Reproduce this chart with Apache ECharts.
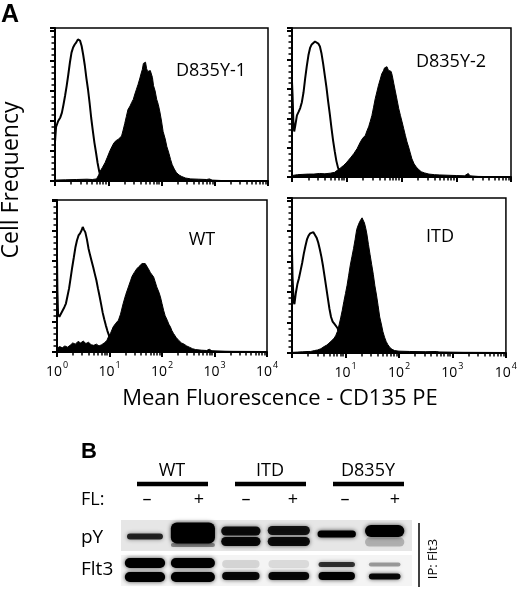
<!DOCTYPE html>
<html>
<head>
<meta charset="utf-8">
<script src="https://cdn.jsdelivr.net/npm/echarts@6/dist/echarts.min.js"></script>
<style>
html,body{margin:0;padding:0;background:#fff;}
#c{width:520px;height:589px;}
</style>
</head>
<body>
<div id="c"></div>
<script>
// ---------------- DATA ----------------
// x = log10(fluorescence), y = cell count (arbitrary units)
const panelNames = ['D835Y-1', 'D835Y-2', 'WT', 'ITD'];
const decadeExponents = [0, 1, 2, 3, 4];

const tlCtrl = [[0,130],[0.02,180],[0.06,200],[0.1,212],[0.13,228],[0.16,255],[0.19,285],[0.22,318],[0.25,355],[0.28,395],[0.31,428],[0.34,445],[0.37,455],[0.40,462],[0.43,472],[0.45,476],[0.47,468],[0.50,450],[0.53,420],[0.56,385],[0.59,342],[0.62,305],[0.65,260],[0.68,210],[0.71,168],[0.74,128],[0.77,95],[0.80,60],[0.83,32],[0.86,15],[0.89,7],[0.95,4],[1.2,3],[1.6,2],[2.2,1],[4,0]];
const tlStain = [[0,3],[0.2,4],[0.4,5],[0.6,6],[0.7,5],[0.78,7],[0.82,20],[0.85,33],[0.89,45],[0.94,61],[0.98,78],[1.03,100],[1.07,115],[1.11,128],[1.15,135],[1.19,139],[1.22,144],[1.25,150],[1.28,170],[1.31,192],[1.34,215],[1.37,238],[1.41,250],[1.44,262],[1.47,272],[1.50,290],[1.53,306],[1.56,322],[1.59,340],[1.62,360],[1.64,372],[1.66,392],[1.68,388],[1.70,396],[1.72,375],[1.74,365],[1.76,370],[1.79,368],[1.81,372],[1.83,345],[1.85,318],[1.88,300],[1.91,272],[1.94,255],[1.97,230],[2.0,200],[2.03,165],[2.07,140],[2.1,115],[2.14,92],[2.17,72],[2.20,55],[2.24,40],[2.28,28],[2.33,20],[2.38,15],[2.45,10],[2.55,7],[2.7,6],[2.85,5],[2.9,7],[2.95,3],[3.2,1],[4,0]];

const trCtrl = [[0,325],[0.01,280],[0.025,190],[0.04,155],[0.06,175],[0.09,210],[0.12,222],[0.15,235],[0.18,255],[0.21,288],[0.24,335],[0.27,378],[0.30,415],[0.33,440],[0.36,452],[0.39,456],[0.42,462],[0.45,460],[0.48,455],[0.51,445],[0.54,420],[0.57,385],[0.60,345],[0.63,305],[0.66,258],[0.69,215],[0.72,168],[0.75,125],[0.78,88],[0.81,55],[0.84,32],[0.87,20],[0.91,11],[0.96,6],[1.1,4],[1.5,3],[2,1],[4,0]];
const trStain = [[0,5],[0.1,8],[0.2,9],[0.3,10],[0.4,10],[0.5,12],[0.6,11],[0.7,13],[0.78,16],[0.82,22],[0.88,30],[0.94,39],[0.99,48],[1.03,57],[1.08,68],[1.13,80],[1.19,97],[1.25,120],[1.29,132],[1.34,142],[1.37,158],[1.40,171],[1.43,190],[1.46,210],[1.49,238],[1.52,267],[1.55,290],[1.58,313],[1.61,332],[1.64,352],[1.67,362],[1.69,372],[1.71,368],[1.735,376],[1.76,364],[1.79,370],[1.81,360],[1.83,347],[1.86,318],[1.89,290],[1.92,262],[1.95,233],[1.98,210],[2.01,188],[2.04,165],[2.07,142],[2.10,120],[2.13,102],[2.16,82],[2.19,62],[2.23,45],[2.27,34],[2.31,26],[2.36,18],[2.42,14],[2.5,10],[2.6,8],[2.7,7],[2.85,6],[3.0,5],[3.15,4],[3.22,12],[3.25,4],[3.4,2],[4,0]];

const blCtrl = [[0,315],[0.008,200],[0.02,125],[0.045,116],[0.08,128],[0.11,138],[0.14,148],[0.17,160],[0.20,185],[0.23,210],[0.26,245],[0.29,280],[0.32,312],[0.35,345],[0.38,368],[0.41,385],[0.44,392],[0.47,402],[0.49,413],[0.51,405],[0.54,395],[0.57,372],[0.60,342],[0.63,320],[0.66,300],[0.69,280],[0.72,258],[0.75,237],[0.78,210],[0.81,185],[0.84,158],[0.87,130],[0.90,108],[0.93,88],[0.96,70],[0.99,55],[1.01,45],[1.03,30],[1.06,18],[1.10,10],[1.2,6],[1.5,4],[2,2],[4,0]];
const blStain = [[0,12],[0.05,18],[0.1,14],[0.15,20],[0.2,16],[0.25,22],[0.3,30],[0.35,26],[0.4,35],[0.45,30],[0.5,36],[0.55,28],[0.6,32],[0.65,24],[0.7,22],[0.75,26],[0.8,20],[0.85,24],[0.9,30],[0.95,38],[0.98,50],[1.02,62],[1.07,83],[1.12,95],[1.17,105],[1.21,125],[1.26,160],[1.31,190],[1.36,215],[1.40,235],[1.43,250],[1.47,262],[1.52,275],[1.56,282],[1.59,288],[1.62,292],[1.65,298],[1.68,292],[1.71,286],[1.74,275],[1.78,262],[1.81,255],[1.84,248],[1.87,232],[1.90,215],[1.94,198],[1.97,182],[2.0,160],[2.03,138],[2.06,120],[2.10,105],[2.13,92],[2.16,83],[2.19,70],[2.22,61],[2.27,48],[2.32,38],[2.37,30],[2.42,26],[2.47,20],[2.52,16],[2.58,11],[2.64,8],[2.75,6],[2.85,5],[2.9,9],[2.95,4],[3.2,2],[4,0]];

const brCtrl = [[0,335],[0.01,250],[0.03,170],[0.045,160],[0.07,195],[0.10,225],[0.13,245],[0.16,270],[0.19,295],[0.22,325],[0.25,350],[0.28,372],[0.31,385],[0.34,392],[0.37,398],[0.40,396],[0.43,390],[0.46,378],[0.49,362],[0.52,340],[0.55,315],[0.58,285],[0.61,250],[0.64,215],[0.67,180],[0.70,145],[0.73,118],[0.76,103],[0.79,96],[0.82,92],[0.85,82],[0.88,70],[0.91,56],[0.94,44],[0.97,32],[1.0,22],[1.05,12],[1.1,7],[1.3,4],[2,2],[4,0]];
const brStain = [[0,2],[0.1,3],[0.2,4],[0.3,5],[0.35,5],[0.42,8],[0.48,10],[0.54,14],[0.60,21],[0.65,26],[0.69,32],[0.74,40],[0.79,49],[0.82,58],[0.85,71],[0.88,92],[0.91,115],[0.94,140],[0.97,169],[1.0,195],[1.03,222],[1.06,255],[1.09,288],[1.12,315],[1.15,342],[1.18,372],[1.21,405],[1.24,420],[1.27,432],[1.29,438],[1.31,443],[1.33,437],[1.355,426],[1.38,408],[1.40,390],[1.43,355],[1.46,322],[1.49,290],[1.52,258],[1.55,220],[1.58,190],[1.61,155],[1.64,118],[1.67,95],[1.70,70],[1.73,52],[1.76,38],[1.79,28],[1.83,18],[1.87,12],[1.92,8],[2.0,6],[2.2,5],[2.5,4],[2.7,5],[2.75,3],[3.0,2],[4,0]];

// Western blot: groups, lane treatment, bands [lane, migration position, spread, intensity]
const blotGroups = ['WT', 'ITD', 'D835Y'];
const laneTreatment = ['–', '+', '–', '+', '–', '+'];
const blotRows = ['pY', 'Flt3'];
const pyBands = [[0,16.5,6,0.8],[1,13,21,1.0],[1,25,4,0.4],[2,11,9,0.92],[2,21.5,9,0.95],[3,10.5,9,0.88],[3,21.5,9,0.92],[4,14,7,1.0],[5,11,12,1.0],[5,22,9,0.22]];
const flt3Bands = [[0,8,10,1.0],[0,22,10,1.0],[1,8,10,1.0],[1,22,10,1.0],[2,9,8,0.12],[2,21,8,0.95],[3,9,8,0.1],[3,21,8,0.95],[4,9.5,5,0.75],[4,21,8,1.0],[5,9.5,4,0.35],[5,21.5,6,0.95]];

// ---------------- STYLE / LAYOUT ----------------
const FONT = '"Open Sans", "Noto Sans", sans-serif';
const pyLaneWidth = [0.75, 0.92, 0.82, 0.88, 0.8, 0.82];
const flt3LaneWidth = [0.84, 0.92, 0.78, 0.85, 0.76, 0.66];
const histGrids = [
  {left:55, top:28, width:213, height:153},
  {left:292, top:28, width:219, height:149},
  {left:57, top:200, width:210, height:152},
  {left:292, top:198, width:219, height:155}
];
const yMaxes = [510, 508, 502, 508];
const showXLabels = [false, false, true, true];
const hideFirstLabel = [false, false, false, true];
const panelLabelPos = [[211,71],[451,62],[202,240],[440,237]];
const ctrlSeries = [tlCtrl, trCtrl, blCtrl, brCtrl];
const stainSeries = [tlStain, trStain, blStain, brStain];

const minorTickVals = [];
for (let d = 0; d < 4; d++) {
  for (let k = 2; k <= 9; k++) minorTickVals.push(d + Math.log10(k));
}

const grid = [], xAxis = [], yAxis = [], series = [];
histGrids.forEach((g, i) => {
  grid.push(Object.assign({show:true, borderColor:'#000', borderWidth:1.5, backgroundColor:'transparent'}, g));
  xAxis.push({
    gridIndex:i, type:'value', min:0, max:4, interval:1, position:'bottom',
    axisLine:{show:true, onZero:false, lineStyle:{color:'#000', width:2}},
    axisTick:{show:true, length:5, lineStyle:{color:'#000', width:2}},
    splitLine:{show:false},
    axisLabel:{
      show: showXLabels[i], margin:9,
      customValues: decadeExponents,
      formatter: v => (hideFirstLabel[i] && v === 0) ? '' : '{b|10}{s|' + v + '}',
      rich:{
        b:{fontSize:14, fontFamily:FONT, color:'#000', lineHeight:18, verticalAlign:'bottom'},
        s:{fontSize:9, fontFamily:FONT, color:'#000', lineHeight:18, verticalAlign:'top', padding:[0,0,0,1]}
      }
    }
  });
  xAxis.push({
    gridIndex:i, type:'value', min:0, max:4, position:'bottom',
    axisLine:{show:false, onZero:false},
    axisTick:{show:true, customValues:minorTickVals, length:3.5, lineStyle:{color:'#000', width:1.5}},
    axisLabel:{show:false}, splitLine:{show:false}
  });
  yAxis.push({
    gridIndex:i, type:'value', min:0, max:yMaxes[i], interval:100,
    axisLine:{show:true, onZero:false, lineStyle:{color:'#000', width:2}},
    axisTick:{show:true, length:5, lineStyle:{color:'#000', width:2}},
    minorTick:{show:true, splitNumber:5, length:3.5, lineStyle:{color:'#000', width:1.5}},
    axisLabel:{show:false}, splitLine:{show:false}, minorSplitLine:{show:false}
  });
  series.push({
    type:'line', xAxisIndex:2*i, yAxisIndex:i, data:stainSeries[i], symbol:'none',
    lineStyle:{color:'#000', width:1}, areaStyle:{color:'#000', opacity:1},
    silent:true, animation:false
  });
  series.push({
    type:'line', xAxisIndex:2*i, yAxisIndex:i, data:ctrlSeries[i], symbol:'none',
    lineStyle:{color:'#000', width:2}, silent:true, animation:false
  });
});

// Blot grids
grid.push({left:121, top:520, width:291, height:31, show:true, backgroundColor:'#e6e6e6', borderWidth:0});
grid.push({left:121, top:555, width:291, height:31, show:true, backgroundColor:'#f4f4f4', borderWidth:0});
[4,5].forEach(gi => {
  xAxis.push({gridIndex:gi, type:'value', min:-0.5, max:5.57, show:false});
  yAxis.push({gridIndex:gi, type:'value', min:0, max:31, inverse:true, show:false});
});

function bandRenderer(widths) {
  return function (params, api) {
    const lane = api.value(0), pos = api.value(1), spread = api.value(2), a = api.value(3);
    const c = api.coord([lane, pos]);
    const laneW = api.size([1, 0])[0];
    const h = api.size([0, spread])[1];
    const w = laneW * widths[lane];
    return {
      type:'rect',
      shape:{x:c[0]-w/2, y:c[1]-h/2, width:w, height:h, r:Math.min(h/2, 6)},
      style:{fill:'rgba(0,0,0,' + a + ')', shadowBlur:4, shadowColor:'rgba(0,0,0,' + (a*0.7) + ')'}
    };
  };
}
series.push({type:'custom', xAxisIndex:8, yAxisIndex:4, data:pyBands, renderItem:bandRenderer(pyLaneWidth), silent:true, animation:false, clip:false});
series.push({type:'custom', xAxisIndex:9, yAxisIndex:5, data:flt3Bands, renderItem:bandRenderer(flt3LaneWidth), silent:true, animation:false, clip:false});

// ---------------- TEXT / DECORATION ----------------
const graphic = [];
function txt(s, x, y, size, opts) {
  opts = opts || {};
  graphic.push({
    type:'text', x:x, y:y, rotation: opts.rotation || 0, silent:true,
    style:{text:s, x:0, y:0, font:(opts.weight||'normal') + ' ' + size + 'px ' + (opts.family||FONT),
      fill:'#000', textAlign:opts.align||'center', textVerticalAlign:'middle'}
  });
}
txt('A', 1, 15, 25, {weight:'bold', family:'"Liberation Sans", Arial, sans-serif', align:'left'});
txt('Cell Frequency', 11, 180, 23, {rotation:Math.PI/2});
txt('Mean Fluorescence - CD135 PE', 280, 399, 22);
panelNames.forEach((n, i) => txt(n, panelLabelPos[i][0], panelLabelPos[i][1], 18));

txt('B', 81, 452, 22, {weight:'bold', family:'"Liberation Sans", Arial, sans-serif', align:'left'});
const groupCenters = [172, 270, 368];
const groupBars = [[137,208],[235,306],[333,404]];
blotGroups.forEach((gname, i) => {
  txt(gname, groupCenters[i], 471, 18);
  graphic.push({type:'line', silent:true, shape:{x1:groupBars[i][0], y1:484, x2:groupBars[i][1], y2:484}, style:{stroke:'#000', lineWidth:4.5}});
});
txt('FL:', 81, 500, 18, {align:'left'});
const signX = [147, 199, 246, 293, 345, 395];
laneTreatment.forEach((s, i) => txt(s, signX[i], 500, 18));
txt(blotRows[0], 81, 538, 19, {align:'left'});
txt(blotRows[1], 81, 570, 19, {align:'left'});
graphic.push({type:'line', silent:true, shape:{x1:419, y1:523, x2:419, y2:587}, style:{stroke:'#000', lineWidth:1.5}});
txt('IP: Flt3', 433, 559, 13, {rotation:Math.PI/2});

const chart = echarts.init(document.getElementById('c'), null, {renderer:'canvas'});
chart.setOption({
  animation:false,
  backgroundColor:'#fff',
  grid:grid, xAxis:xAxis, yAxis:yAxis, series:series, graphic:graphic
});
</script>
</body>
</html>
